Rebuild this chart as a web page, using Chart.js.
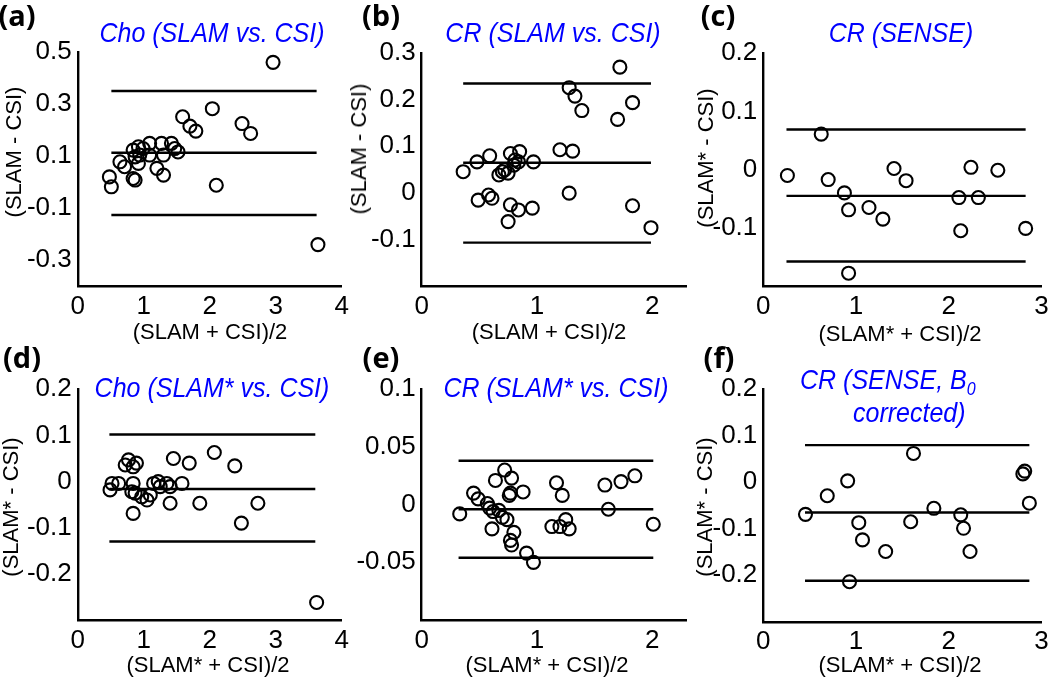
<!DOCTYPE html>
<html>
<head>
<meta charset="utf-8">
<script src="https://cdn.jsdelivr.net/npm/chart.js@4.4.1/dist/chart.umd.min.js"></script>
<style>
  html, body { margin: 0; padding: 0; background: #fff; }
  body { width: 1050px; height: 678px; position: relative; overflow: hidden; }
  canvas { position: absolute; }
  .t { position: absolute; white-space: nowrap; line-height: 1; transform: translate(-50%, -50%); }
  .lbl { font: bold 29px "Open Sans", sans-serif; color: #000; }
  .ttl { font: italic 25px "Liberation Sans", Arial, sans-serif; color: #0000ff; transform: translate(-50%, -50%) scaleY(1.12); }
  .ttl2 { font: italic 25px "Liberation Sans", Arial, sans-serif; color: #0000ff; position: absolute; line-height: 1; white-space: nowrap; transform: scaleY(1.12); }
  .ax { font: 22px "Liberation Sans", Arial, sans-serif; color: #000; }
  .rot { transform: translate(-50%, -50%) rotate(-90deg); }
</style>
</head>
<body>
<canvas id="cA"></canvas>
<canvas id="cB"></canvas>
<canvas id="cC"></canvas>
<canvas id="cD"></canvas>
<canvas id="cE"></canvas>
<canvas id="cF"></canvas>

<div class="t lbl" style="left:17px;top:14px">(a)</div>
<div class="t lbl" style="left:381px;top:14px">(b)</div>
<div class="t lbl" style="left:718px;top:14px">(c)</div>
<div class="t lbl" style="left:22px;top:356px">(d)</div>
<div class="t lbl" style="left:381px;top:356px">(e)</div>
<div class="t lbl" style="left:719px;top:356px">(f)</div>

<div class="t ttl" style="left:212px;top:32px">Cho (SLAM vs. CSI)</div>
<div class="t ttl" style="left:553px;top:32px">CR (SLAM vs. CSI)</div>
<div class="t ttl" style="left:901px;top:32px">CR (SENSE)</div>
<div class="t ttl" style="left:212px;top:387px">Cho (SLAM* vs. CSI)</div>
<div class="t ttl" style="left:556px;top:387px">CR (SLAM* vs. CSI)</div>
<div class="ttl2" style="left:800px;top:367px">CR (SENSE, B<sub style="font-size:16px">0</sub></div>
<div class="ttl2" style="left:853px;top:400px">corrected)</div>

<div class="t ax" style="left:210px;top:332px">(SLAM + CSI)/2</div>
<div class="t ax" style="left:549px;top:332px">(SLAM + CSI)/2</div>
<div class="t ax" style="left:900px;top:334px">(SLAM* + CSI)/2</div>
<div class="t ax" style="left:208px;top:665px">(SLAM* + CSI)/2</div>
<div class="t ax" style="left:547px;top:665px">(SLAM* + CSI)/2</div>
<div class="t ax" style="left:900px;top:665px">(SLAM* + CSI)/2</div>

<div class="t ax rot" style="left:14px;top:152px">(SLAM - CSI)</div>
<div class="t ax rot" style="left:359px;top:149px">(SLAM - CSI)</div>
<div class="t ax rot" style="left:706px;top:158px">(SLAM* - CSI)</div>
<div class="t ax rot" style="left:11px;top:507px">(SLAM* - CSI)</div>
<div class="t ax rot" style="left:705px;top:507px">(SLAM* - CSI)</div>

<script>
// ---- data (mean difference vs. difference, Bland-Altman) ----

// (a) Cho, SLAM vs CSI
const ptsA = [
  [0.48, 0.019], [0.51, -0.019], [0.64, 0.077], [0.71, 0.058], [0.84, 0.013], [0.87, 0.007],
  [0.84, 0.122], [0.92, 0.135], [0.87, 0.096], [0.94, 0.103], [0.92, 0.071], [0.99, 0.128],
  [1.09, 0.148], [1.09, 0.103], [1.20, 0.052], [1.30, 0.026], [1.27, 0.148], [1.30, 0.103],
  [1.42, 0.148], [1.47, 0.128], [1.52, 0.115], [1.59, 0.250], [1.70, 0.214], [1.79, 0.195],
  [2.04, 0.281], [2.10, -0.013], [2.49, 0.224], [2.62, 0.186], [2.96, 0.459], [3.64, -0.241]
];
const limA = [0.349, 0.112, -0.127];
const spanA = [0.51, 3.62];

// (b) CR, SLAM vs CSI
const ptsB = [
  [0.36, 0.045], [0.48, 0.066], [0.59, 0.079], [0.77, 0.084], [0.85, 0.088], [0.81, 0.070],
  [0.84, 0.066], [0.97, 0.066], [0.67, 0.038], [0.70, 0.045], [0.72, 0.049], [0.75, 0.042],
  [0.80, 0.059], [0.49, -0.016], [0.58, -0.005], [0.61, -0.012], [0.77, -0.026], [0.84, -0.037],
  [0.96, -0.033], [0.75, -0.062], [1.20, 0.092], [1.31, 0.089], [1.28, -0.001], [1.28, 0.225],
  [1.33, 0.207], [1.39, 0.176], [1.72, 0.269], [1.83, 0.193], [1.70, 0.157], [1.83, -0.028],
  [1.99, -0.075]
];
const limB = [0.234, 0.064, -0.107];
const spanB = [0.36, 1.99];

// (c) CR, SENSE
const ptsC = [
  [0.26, -0.010], [0.625, 0.061], [0.70, -0.017], [0.875, -0.040], [0.92, -0.069], [0.92, -0.178],
  [1.14, -0.065], [1.29, -0.085], [1.41, 0.002], [1.54, -0.019], [2.11, -0.048], [2.13, -0.105],
  [2.24, 0.004], [2.32, -0.048], [2.53, -0.001], [2.83, -0.101]
];
const limC = [0.069, -0.045, -0.158];
const spanC = [0.25, 2.83];

// (d) Cho, SLAM* vs CSI
const ptsD = [
  [0.49, -0.018], [0.52, -0.004], [0.62, -0.004], [0.72, 0.036], [0.77, 0.047], [0.84, 0.032],
  [0.89, 0.040], [0.84, -0.004], [0.82, -0.022], [0.87, -0.025], [0.97, -0.033], [1.05, -0.040],
  [0.84, -0.069], [1.15, -0.004], [1.22, 0.000], [1.25, -0.011], [1.35, -0.004], [1.40, -0.011],
  [1.58, -0.004], [1.40, -0.047], [1.45, 0.050], [1.10, -0.029], [1.69, 0.040], [1.85, -0.047],
  [2.07, 0.063], [2.38, 0.034], [2.48, -0.090], [2.73, -0.047], [3.62, -0.262]
];
const limD = [0.102, -0.016, -0.130];
const spanD = [0.48, 3.60];

// (e) CR, SLAM* vs CSI
const ptsE = [
  [0.33, -0.008], [0.45, 0.010], [0.49, 0.005], [0.57, 0.001], [0.59, -0.003], [0.62, -0.006],
  [0.67, -0.005], [0.70, -0.011], [0.74, -0.013], [0.61, -0.021], [0.80, -0.024], [0.77, -0.031],
  [0.78, -0.035], [0.91, -0.042], [0.97, -0.050], [0.72, 0.030], [0.78, 0.023], [0.64, 0.021],
  [0.77, 0.010], [0.76, 0.008], [0.88, 0.011], [1.17, 0.019], [1.22, 0.008], [1.13, -0.019],
  [1.20, -0.019], [1.25, -0.013], [1.28, -0.021], [1.59, 0.017], [1.62, -0.004], [1.73, 0.020],
  [1.85, 0.025], [2.01, -0.017]
];
const limE = [0.038, -0.004, -0.046];
const spanE = [0.32, 2.01];

// (f) CR, SENSE, B0 corrected
const ptsF = [
  [0.455, -0.069], [0.69, -0.029], [0.91, 0.003], [0.93, -0.214], [1.03, -0.087], [1.07, -0.124],
  [1.32, -0.149], [1.59, -0.085], [1.62, 0.062], [1.84, -0.056], [2.13, -0.070], [2.16, -0.099],
  [2.23, -0.149], [2.80, 0.018], [2.82, 0.024], [2.87, -0.045]
];
const limF = [0.080, -0.065, -0.212];
const spanF = [0.45, 2.87];

// axis ranges and tick labels
const xTicks4 = [0, 1, 2, 3, 4];
const xTicks2 = [0, 1, 2];
const xTicks3 = [0, 1, 2, 3];
const yTicksA = [-0.3, -0.1, 0.1, 0.3, 0.5];
const yTicksB = [-0.1, 0, 0.1, 0.2, 0.3];
const yTicksC = [-0.1, 0, 0.1, 0.2];
const yTicksD = [-0.2, -0.1, 0, 0.1, 0.2];
const yTicksE = [-0.05, 0, 0.05, 0.1];
const yTicksF = [-0.2, -0.1, 0, 0.1, 0.2];

// ---- drawing ----
const FONT = { family: "'Liberation Sans', Arial, sans-serif", size: 26 };
const Y_W = 72, X_H = 40;   // y scale must be wide enough: labels are clipped to it

function panel(id, box, plot, pts, lim, span, xr, xt, yr, yt) {
  const el = document.getElementById(id);
  el.width = box.w; el.height = box.h;
  el.style.left = box.l + "px"; el.style.top = box.t + "px";

  const lines = lim.map(v => ({
    type: "line",
    data: [{ x: span[0], y: v }, { x: span[1], y: v }],
    borderColor: "#000",
    borderWidth: 2.4,
    pointRadius: 0,
    fill: false,
  }));

  const axisBase = {
    type: "linear",
    grid: { display: false, drawTicks: false },
    border: { display: true, color: "#000", width: 2.4 },
  };

  new Chart(el.getContext("2d"), {
    type: "scatter",
    data: {
      datasets: [
        ...lines,
        {
          data: pts.map(p => ({ x: p[0], y: p[1] })),
          borderColor: "#000",
          backgroundColor: "rgba(0,0,0,0)",
          borderWidth: 2.1,
          pointRadius: 6.5,
          clip: false,
        },
      ],
    },
    options: {
      responsive: false,
      animation: false,
      events: [],
      layout: {
        padding: {
          left: plot.l - box.l - Y_W,
          top: plot.t - box.t,
          right: box.l + box.w - plot.r,
          bottom: box.t + box.h - plot.b - X_H,
        },
      },
      plugins: { legend: { display: false }, tooltip: { enabled: false } },
      scales: {
        x: {
          ...axisBase,
          min: xr[0], max: xr[1],
          afterBuildTicks: s => { s.ticks = xt.map(v => ({ value: v })); },
          afterFit: s => { s.height = X_H; s.paddingLeft = 0; s.paddingRight = 0; },
          ticks: { color: "#000", font: FONT, padding: 5, maxRotation: 0, callback: v => String(v) },
        },
        y: {
          ...axisBase,
          min: yr[0], max: yr[1],
          afterBuildTicks: s => { s.ticks = yt.map(v => ({ value: v })); },
          afterFit: s => { s.width = Y_W; s.paddingTop = 0; s.paddingBottom = 0; },
          ticks: { color: "#000", font: FONT, padding: 6, callback: v => String(v) },
        },
      },
    },
  });
}

const topRow = { t: 0, h: 330 };
const botRow = { t: 340, h: 338 };
const colA = { l: 0, w: 355 }, colB = { l: 330, w: 370 }, colC = { l: 680, w: 370 };

panel("cA", { ...colA, ...topRow }, { l: 77.7, r: 341.7, t: 51.7, b: 286 },
  ptsA, limA, spanA, [0, 4], xTicks4, [-0.4, 0.5], yTicksA);
panel("cB", { ...colB, ...topRow }, { l: 421.7, r: 686.7, t: 52.7, b: 286 },
  ptsB, limB, spanB, [0, 2.3], xTicks2, [-0.2, 0.3], yTicksB);
panel("cC", { ...colC, ...topRow }, { l: 763.3, r: 1043.3, t: 53.3, b: 286 },
  ptsC, limC, spanC, [0, 3], xTicks3, [-0.2, 0.2], yTicksC);
panel("cD", { ...colA, ...botRow }, { l: 77.7, r: 341.7, t: 389.3, b: 620 },
  ptsD, limD, spanD, [0, 4], xTicks4, [-0.3, 0.2], yTicksD);
panel("cE", { ...colB, ...botRow }, { l: 421.7, r: 686.7, t: 389.3, b: 620 },
  ptsE, limE, spanE, [0, 2.3], xTicks2, [-0.1, 0.1], yTicksE);
panel("cF", { ...colC, ...botRow }, { l: 763.3, r: 1043.3, t: 389.3, b: 621.7 },
  ptsF, limF, spanF, [0, 3], xTicks3, [-0.3, 0.2], yTicksF);
</script>
</body>
</html>
